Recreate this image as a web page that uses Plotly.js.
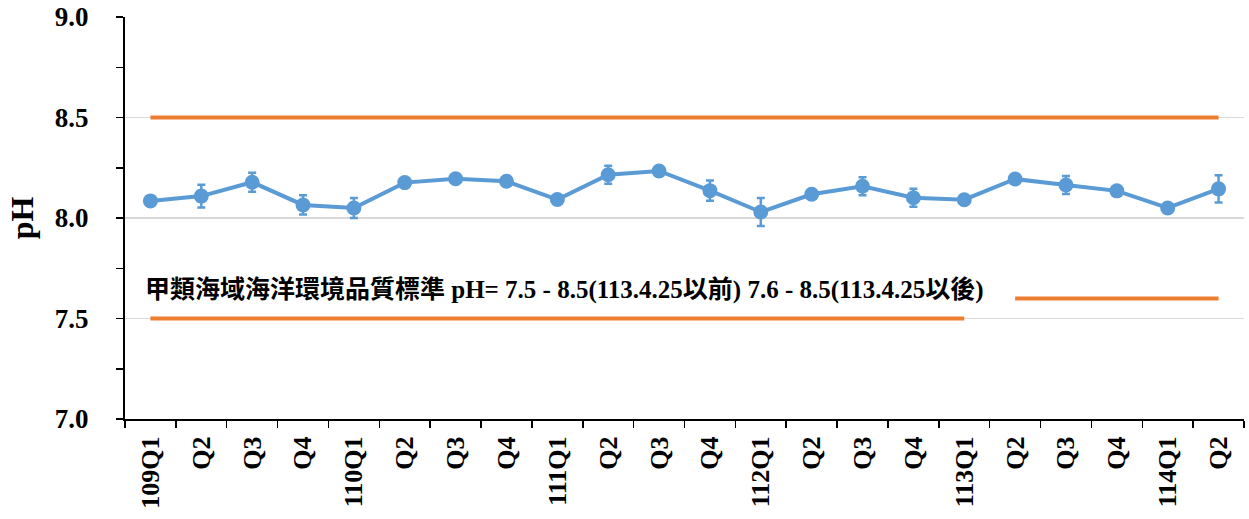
<!DOCTYPE html>
<html>
<head>
<meta charset="utf-8">
<script src="https://cdn.plot.ly/plotly-3.0.1.min.js"></script>
<style>html,body{margin:0;padding:0;background:#fff;}#chart{width:1249px;height:519px;}</style>
</head>
<body>
<div id="chart"></div>
<script>
// Category ids (unique) and displayed tick labels
const categories = ['109Q1','109Q2','109Q3','109Q4','110Q1','110Q2','110Q3','110Q4','111Q1','111Q2','111Q3','111Q4','112Q1','112Q2','112Q3','112Q4','113Q1','113Q2','113Q3','113Q4','114Q1','114Q2'];
const tickLabels = ['109Q1','Q2','Q3','Q4','110Q1','Q2','Q3','Q4','111Q1','Q2','Q3','Q4','112Q1','Q2','Q3','Q4','113Q1','Q2','Q3','Q4','114Q1','Q2'];
// Mean pH per quarter
const phMean = [8.085,8.109,8.178,8.065,8.050,8.176,8.195,8.183,8.092,8.215,8.234,8.136,8.030,8.118,8.158,8.101,8.091,8.194,8.164,8.135,8.050,8.145];
// Error bar half-length
const phErr = [0.010,0.057,0.047,0.048,0.050,0.020,0.015,0.015,0.010,0.045,0.010,0.050,0.070,0.020,0.045,0.045,0.012,0.012,0.045,0.015,0.010,0.068];
// Standards
const upperLimit = 8.5;
const lowerLimitBefore = 7.5;   // up to 113.4.25
const lowerLimitAfter = 7.6;    // after 113.4.25
const beforeCats = categories.slice(0, 17);
const afterCats = categories.slice(17);
const annotationText = '甲類海域海洋環境品質標準 pH= 7.5 - 8.5(113.4.25以前) 7.6 - 8.5(113.4.25以後)';

const serif = '"Liberation Serif", "Times New Roman", "Noto Sans CJK TC", serif';
const orange = '#ED7D31';
const blue = '#5B9BD5';

const traces = [
  {x: categories, y: categories.map(() => upperLimit), mode: 'lines', line: {color: orange, width: 4}, hoverinfo: 'skip'},
  {x: beforeCats, y: beforeCats.map(() => lowerLimitBefore), mode: 'lines', line: {color: orange, width: 4}, hoverinfo: 'skip'},
  {x: afterCats, y: afterCats.map(() => lowerLimitAfter), mode: 'lines', line: {color: orange, width: 4}, hoverinfo: 'skip'},
  {x: categories, y: phMean, mode: 'lines+markers',
   line: {color: blue, width: 4},
   marker: {color: blue, size: 15},
   error_y: {type: 'data', array: phErr, visible: true, color: blue, thickness: 2.5, width: 4}}
];

const layout = {
  width: 1249, height: 519,
  margin: {l: 125, r: 5, t: 17, b: 100},
  paper_bgcolor: '#fff', plot_bgcolor: '#fff',
  showlegend: false,
  font: {family: serif, color: '#000'},
  xaxis: {
    type: 'category',
    tickmode: 'array', tickvals: categories, ticktext: tickLabels,
    tickson: 'boundaries', ticks: 'outside', ticklen: 7, tickwidth: 1.5, tickcolor: '#000',
    tickangle: -90,
    ticklabelstandoff: 5,
    tickfont: {family: serif, size: 26, color: '#000', weight: 'bold'},
    showline: true, linecolor: '#000', linewidth: 2,
    showgrid: false, zeroline: false,
    range: [-0.5, 21.5]
  },
  yaxis: {
    range: [7, 9], tickmode: 'linear', tick0: 7, dtick: 0.5,
    tickformat: '.1f',
    ticks: 'outside', ticklen: 7, tickwidth: 1.5, tickcolor: '#000',
    minor: {dtick: 0.25, tick0: 7, ticks: 'outside', ticklen: 7, tickwidth: 1.5, tickcolor: '#000', showgrid: false},
    tickfont: {family: serif, size: 27, color: '#000', weight: 'bold'},
    ticklabelstandoff: 22,
    showline: true, linecolor: '#000', linewidth: 2,
    showgrid: true, gridcolor: '#D9D9D9', gridwidth: 1.5,
    zeroline: false,
    title: {text: 'pH', font: {family: serif, size: 32, color: '#000', weight: 'bold'}, standoff: 12}
  },
  annotations: [{
    xref: 'paper', yref: 'y', x: 0.016, y: 7.64, xanchor: 'left', yanchor: 'middle',
    text: annotationText, showarrow: false,
    font: {family: serif, size: 25, color: '#000', weight: 'bold'}
  }]
};

Plotly.newPlot('chart', traces, layout, {displayModeBar: false, staticPlot: true});
</script>
</body>
</html>
